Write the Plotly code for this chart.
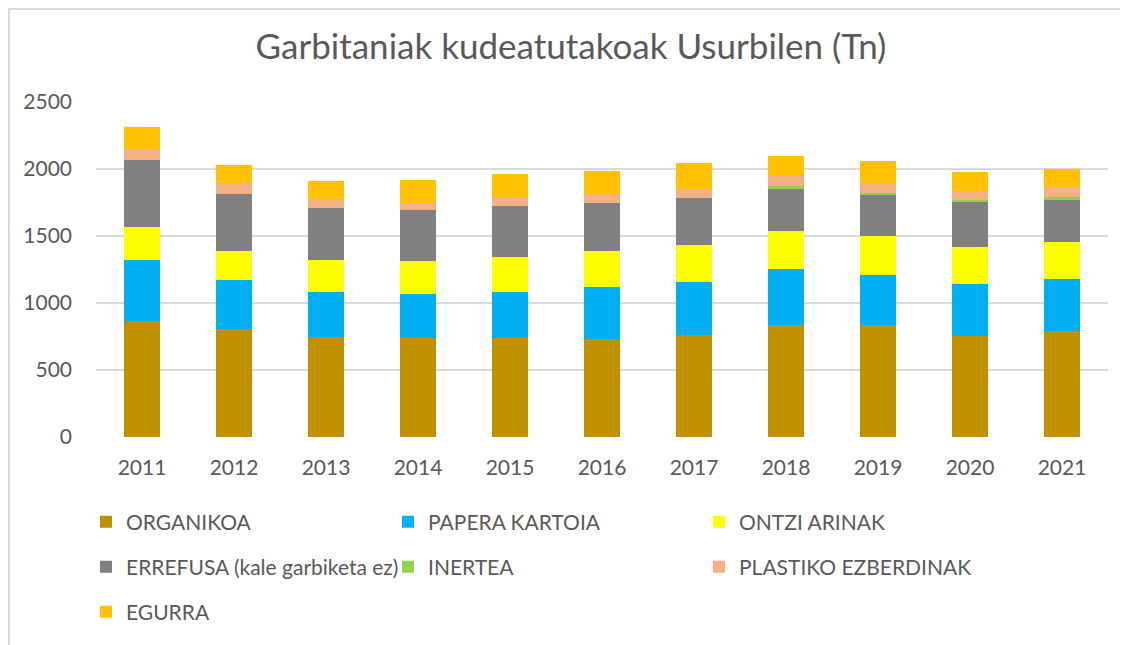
import plotly.graph_objects as go

years = ["2011", "2012", "2013", "2014", "2015", "2016", "2017", "2018", "2019", "2020", "2021"]

organikoa = [866, 809, 749, 739, 741, 734, 761, 836, 836, 756, 791]
papera_kartoia = [458, 363, 333, 328, 344, 383, 396, 418, 376, 388, 391]
ontzi_arinak = [241, 219, 239, 249, 256, 269, 276, 286, 288, 277, 276]
errefusa = [500, 423, 386, 378, 386, 361, 353, 309, 306, 333, 311]
inertea = [0, 0, 0, 0, 0, 0, 0, 24, 18, 17, 22]
plastiko = [87, 84, 67, 55, 62, 64, 68, 75, 74, 68, 75]
egurra = [164, 135, 137, 167, 172, 177, 194, 152, 162, 136, 134]

series_names = ["ORGANIKOA", "PAPERA KARTOIA", "ONTZI ARINAK",
                "ERREFUSA (kale garbiketa ez)", "INERTEA", "PLASTIKO EZBERDINAK", "EGURRA"]
series_values = [organikoa, papera_kartoia, ontzi_arinak, errefusa, inertea, plastiko, egurra]
colors = ["#BF9000", "#00B0F0", "#FFFF00", "#808080", "#92D050", "#F4B183", "#FFC000"]

y_ticks = [0, 500, 1000, 1500, 2000, 2500]

FONT = "Lato"
TXT = "#595959"

# the page has an 8px body margin; work in figure coordinates
OFF = 8
W, H = 1120, 637
L, R, T, B = 88, 20, 94, 208
pw = W - L - R
ph = H - T - B

def px_to_paper_x(px):
    return (px - OFF - L) / pw

def px_to_paper_y(py):
    return (H - B - (py - OFF)) / ph

# legend cell positions (page pixel coords of symbol left edge, row center)
legend_cells = [(100, 522), (402, 522), (713, 522),
                (100, 567), (402, 567), (713, 567),
                (100, 612)]

fig = go.Figure()
layout_legends = {}
for i, (name, vals, col) in enumerate(zip(series_names, series_values, colors)):
    lname = "legend" if i == 0 else f"legend{i+1}"
    fig.add_trace(go.Bar(
        x=years, y=vals, name=name,
        marker=dict(color=col, line=dict(width=0)),
        legend=lname,
    ))
    sx, sy = legend_cells[i]
    layout_legends[lname] = dict(
        x=px_to_paper_x(sx - 14), y=px_to_paper_y(sy),
        xanchor="left", yanchor="middle",
        orientation="h",
        font=dict(family=FONT, size=21, color=TXT),
        bgcolor="rgba(0,0,0,0)",
        borderwidth=0,
        itemclick=False, itemdoubleclick=False,
    )

fig.update_layout(
    width=W, height=H,
    margin=dict(l=L, r=R, t=T, b=B, autoexpand=False),
    barmode="stack",
    bargap=0.6,
    paper_bgcolor="white",
    plot_bgcolor="white",
    showlegend=True,
    title=dict(
        text="Garbitaniak kudeatutakoak Usurbilen (Tn)",
        x=(571 - OFF) / W, xref="container", xanchor="center",
        y=1 - (47 - OFF) / H, yref="container", yanchor="middle",
        font=dict(family=FONT, size=35, color=TXT),
    ),
    xaxis=dict(
        type="category",
        showgrid=False, showline=False, zeroline=False,
        ticks="", ticklabelstandoff=16,
        tickfont=dict(family=FONT, size=21, color=TXT),
    ),
    yaxis=dict(
        range=[0, 2500],
        tickvals=y_ticks,
        ticktext=[str(v) for v in y_ticks],
        showgrid=True, gridcolor="#D9D9D9", gridwidth=1.5,
        zeroline=False, showline=False,
        ticks="", ticklabelstandoff=23,
        tickfont=dict(family=FONT, size=21, color=TXT),
    ),
    shapes=[dict(
        type="rect", xref="paper", yref="paper",
        x0=(1 - L) / pw, x1=(W + 10 - L) / pw,
        y0=-(B + 10) / ph, y1=1 + (T - 1) / ph,
        line=dict(color="#D9D9D9", width=2), fillcolor="rgba(0,0,0,0)",
        layer="below",
    )],
    **layout_legends,
)

fig.write_html("out.html")
